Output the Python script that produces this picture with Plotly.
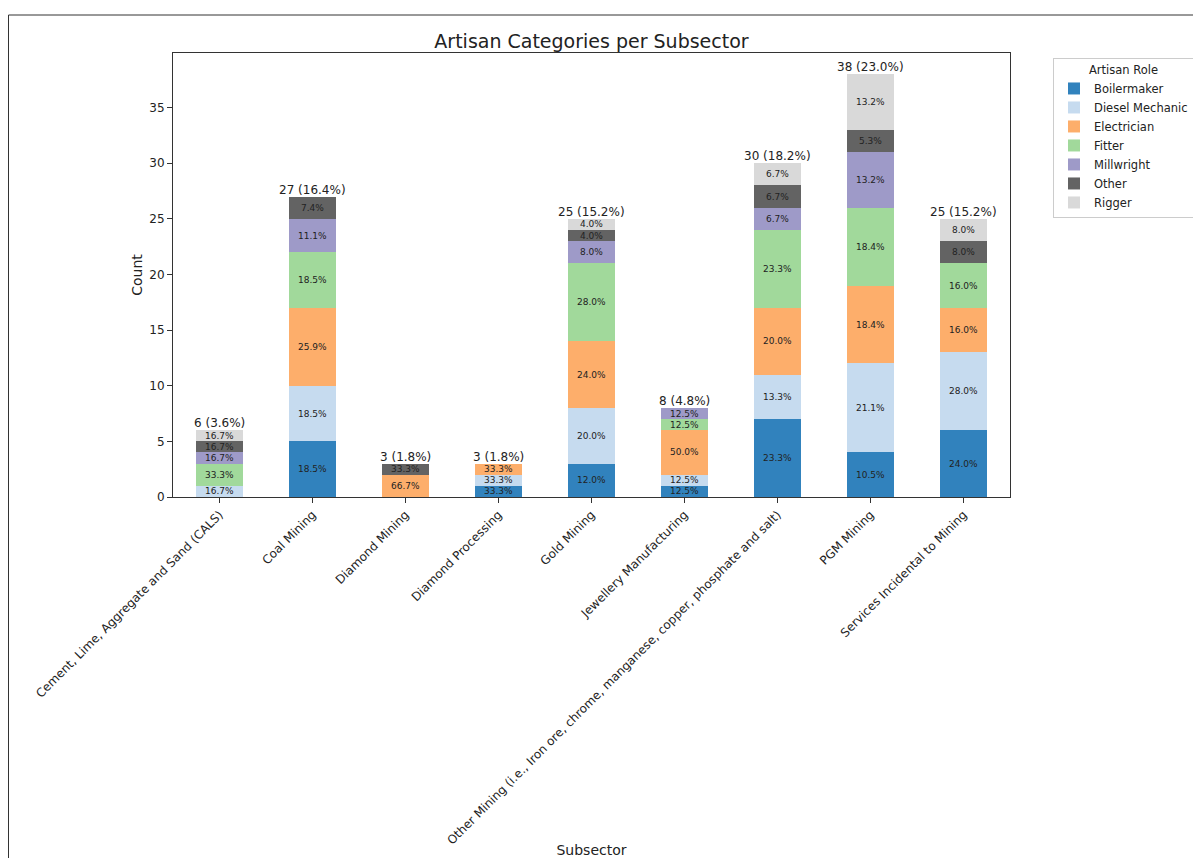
import plotly.graph_objects as go

subsectors = [
    "Cement, Lime, Aggregate and Sand (CALS)",
    "Coal Mining",
    "Diamond Mining",
    "Diamond Processing",
    "Gold Mining",
    "Jewellery Manufacturing",
    "Other Mining (i.e., Iron ore, chrome, manganese, copper, phosphate and salt)",
    "PGM Mining",
    "Services Incidental to Mining",
]

roles = ["Boilermaker", "Diesel Mechanic", "Electrician", "Fitter", "Millwright", "Other", "Rigger"]

boilermaker = [0, 5, 0, 1, 3, 1, 7, 4, 6]
diesel_mechanic = [1, 5, 0, 1, 5, 1, 4, 8, 7]
electrician = [0, 7, 2, 1, 6, 4, 6, 7, 4]
fitter = [2, 5, 0, 0, 7, 1, 7, 7, 4]
millwright = [1, 3, 0, 0, 2, 1, 2, 5, 0]
other = [1, 2, 1, 0, 1, 0, 2, 2, 2]
rigger = [1, 0, 0, 0, 1, 0, 2, 5, 2]

series = [boilermaker, diesel_mechanic, electrician, fitter, millwright, other, rigger]
colors = ["#3182bd", "#c6dbef", "#fdae6b", "#a1d99b", "#9e9ac8", "#636363", "#d9d9d9"]

y_ticks = [0, 5, 10, 15, 20, 25, 30, 35]

totals = [sum(s[i] for s in series) for i in range(len(subsectors))]
grand_total = sum(totals)

fig = go.Figure()
for name, vals, col in zip(roles, series, colors):
    fig.add_trace(go.Bar(
        x=list(range(len(subsectors))), y=vals, name=name,
        marker=dict(color=col, line=dict(width=0)),
        width=0.5,
    ))

annotations = []
base = [0] * len(subsectors)
for vals in series:
    for i, v in enumerate(vals):
        if v > 0:
            pct = v / totals[i] * 100
            annotations.append(dict(
                x=i, y=base[i] + v / 2, xref="x", yref="y",
                text=f"{pct:.1f}%", showarrow=False,
                font=dict(size=9, color="#222222", family="DejaVu Sans"),
            ))
        base[i] += v

for i, t in enumerate(totals):
    annotations.append(dict(
        x=i, y=t, xref="x", yref="y", yanchor="bottom",
        text=f"{t} ({t / grand_total * 100:.1f}%)", showarrow=False,
        font=dict(size=12, color="#222222", family="DejaVu Sans"),
        yshift=-2,
    ))

fig.update_layout(
    width=1230, height=850,
    margin=dict(l=165, r=228, t=45, b=361, autoexpand=False),
    paper_bgcolor="white", plot_bgcolor="white",
    barmode="stack",
    font=dict(family="DejaVu Sans", color="#222222"),
    title=dict(text="Artisan Categories per Subsector", x=0.5, xref="paper",
               y=1, yref="paper", yanchor="bottom", pad=dict(b=5),
               font=dict(size=19, color="#222222")),
    showlegend=True,
    legend=dict(
        title=dict(text="Artisan Role", side="top center", font=dict(size=11.5)),
        x=1.0514, y=0.9887, xanchor="left", yanchor="top",
        traceorder="normal",
        bordercolor="#cccccc", borderwidth=1,
        font=dict(size=11.5), itemwidth=30, tracegroupgap=0,
    ),
    annotations=annotations,
    shapes=[dict(type="rect", xref="paper", yref="paper",
                 x0=(0.5 - 165) / 837, x1=1.4,
                 y0=-1.2, y1=(489 - 7) / 444,
                 line=dict(color="#333333", width=1), fillcolor="rgba(0,0,0,0)",
                 layer="below")],
)

fig.update_xaxes(
    tickmode="array", tickvals=list(range(len(subsectors))), ticktext=subsectors,
    range=[-0.5, 8.5], tickangle=-45, automargin=False,
    showline=True, linecolor="#333333", linewidth=1, mirror=True,
    ticks="outside", ticklen=5, tickcolor="#333333",
    tickfont=dict(size=12, color="#222222"),
    showgrid=False, zeroline=False,
    title=dict(text="Subsector", font=dict(size=14, color="#222222"), standoff=3),
)
fig.update_yaxes(
    range=[0, 39.9], tickvals=y_ticks, automargin=False,
    showline=True, linecolor="#333333", linewidth=1, mirror=True,
    ticks="outside", ticklen=5, tickcolor="#333333",
    tickfont=dict(size=12, color="#222222"),
    showgrid=False, zeroline=False,
    title=dict(text="Count", font=dict(size=14, color="#222222"), standoff=3),
)

fig.write_html("out.html")
